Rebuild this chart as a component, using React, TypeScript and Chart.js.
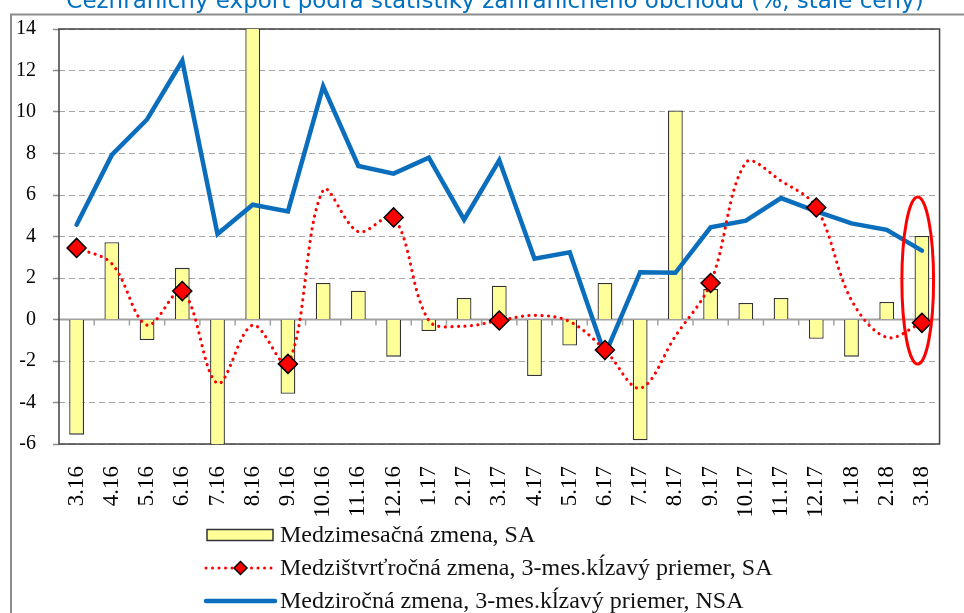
import React, { useEffect, useRef } from "react";
import { Chart, registerables } from "chart.js";

Chart.register(...registerables);

const titleText = "Cezhraničný export podľa štatistiky zahraničného obchodu (%, stále ceny)";

const months = [
  "3.16", "4.16", "5.16", "6.16", "7.16", "8.16", "9.16", "10.16", "11.16", "12.16",
  "1.17", "2.17", "3.17", "4.17", "5.17", "6.17", "7.17", "8.17", "9.17", "10.17",
  "11.17", "12.17", "1.18", "2.18", "3.18",
];

const momLabel = "Medzimesačná zmena, SA";
const momSA = [
  -5.55, 3.72, -0.99, 2.49, -6.5, 15.0, -3.58, 1.76, 1.39, -1.79,
  -0.56, 1.04, 1.63, -2.72, -1.25, 1.76, -5.82, 10.07, 1.47, 0.8,
  1.04, -0.93, -1.79, 0.84, 4.03,
];

const qoqLabel = "Medzištvrťročná zmena, 3-mes.kĺzavý priemer, SA";
const qoqSA = [
  3.45, 2.69, -0.27, 1.37, -3.07, -0.27, -2.14, 6.23, 4.23, 4.92,
  -0.05, -0.32, -0.05, 0.2, -0.1, -1.47, -3.31, -0.8, 1.76, 7.56,
  6.68, 5.4, 0.93, -0.86, -0.16,
];

const yoyLabel = "Medziročná zmena, 3-mes.kĺzavý priemer, NSA";
const yoyNSA = [
  4.57, 7.93, 9.64, 12.47, 4.12, 5.53, 5.21, 11.24, 7.4, 7.03,
  7.8, 4.81, 7.67, 2.93, 3.24, -1.7, 2.28, 2.25, 4.44, 4.76,
  5.85, 5.21, 4.63, 4.32, 3.32,
];

const yTicks = [-6, -4, -2, 0, 2, 4, 6, 8, 10, 12, 14];

// highlighted (circled) month and the value range it spans
const highlightIndex = 24;
const highlightTop = 5.9;
const highlightBottom = -2.15;

const isQuarterEnd = (i: number) => Number(months[i].split(".")[0]) % 3 === 0;

const BAR_FILL = "#FFFF99";
const BAR_BORDER = "#333333";
const RED = "#FF0000";
const BLUE = "#0A6EBD";
const SERIF = '"Liberation Serif", "Times New Roman", serif';

function drawDiamond(ctx: CanvasRenderingContext2D, x: number, y: number, r: number) {
  ctx.beginPath();
  ctx.moveTo(x - r, y);
  ctx.lineTo(x, y - r);
  ctx.lineTo(x + r, y);
  ctx.lineTo(x, y + r);
  ctx.closePath();
  ctx.fillStyle = RED;
  ctx.fill();
  ctx.strokeStyle = "#000";
  ctx.lineWidth = 1.5;
  ctx.stroke();
}

const decorPlugin = {
  id: "decor",
  beforeDraw(chart: any) {
    const { ctx } = chart;
    ctx.save();
    ctx.fillStyle = "#fff";
    ctx.fillRect(0, 0, chart.width, chart.height);
    // title (cut by top edge as in the source)
    ctx.fillStyle = "#0070C0";
    ctx.font = '23px "DejaVu Sans", Verdana, sans-serif';
    ctx.textAlign = "center";
    ctx.textBaseline = "alphabetic";
    ctx.fillText(titleText, 495, 8);
    // outer frame
    ctx.strokeStyle = "#8c8c8c";
    ctx.lineWidth = 2;
    ctx.beginPath();
    ctx.moveTo(11, chart.height);
    ctx.lineTo(11, 14.5);
    ctx.lineTo(chart.width, 14.5);
    ctx.stroke();
    ctx.restore();
  },
  beforeDatasetsDraw(chart: any) {
    const { ctx, chartArea: a, scales } = chart;
    const x = scales.x;
    const y = scales.y;
    const y0 = y.getPixelForValue(0);
    ctx.save();
    ctx.strokeStyle = "#a0a0a0";
    ctx.lineWidth = 2;
    ctx.beginPath();
    ctx.moveTo(a.left, y0);
    ctx.lineTo(a.right, y0);
    ctx.stroke();
    ctx.lineWidth = 1.5;
    for (let i = 1; i < months.length; i++) {
      const bx = (x.getPixelForValue(i - 1) + x.getPixelForValue(i)) / 2;
      ctx.beginPath();
      ctx.moveTo(bx, y0);
      ctx.lineTo(bx, y0 + 6);
      ctx.stroke();
    }
    ctx.strokeStyle = "#404040";
    ctx.lineWidth = 1.5;
    ctx.strokeRect(a.left, a.top, a.right - a.left, a.bottom - a.top);
    ctx.restore();
  },
  afterDatasetsDraw(chart: any) {
    const { ctx, scales } = chart;
    const x = scales.x;
    const y = scales.y;
    const cw = x.getPixelForValue(1) - x.getPixelForValue(0);
    const cx = x.getPixelForValue(highlightIndex) - cw * 0.12;
    const yt = y.getPixelForValue(highlightTop);
    const yb = y.getPixelForValue(highlightBottom);
    ctx.save();
    ctx.strokeStyle = RED;
    ctx.lineWidth = 3;
    ctx.beginPath();
    ctx.ellipse(cx, (yt + yb) / 2, cw * 0.45, (yb - yt) / 2, 0, 0, Math.PI * 2);
    ctx.stroke();
    ctx.restore();
  },
  afterDraw(chart: any) {
    const { ctx } = chart;
    const ds = chart.data.datasets;
    const symL = 206;
    const symR = 275;
    const textX = 280;
    const rows = [535, 568, 601];
    ctx.save();
    // bar symbol
    ctx.fillStyle = BAR_FILL;
    ctx.strokeStyle = BAR_BORDER;
    ctx.lineWidth = 1.5;
    ctx.fillRect(207, rows[0] - 5.5, 66, 11);
    ctx.strokeRect(207, rows[0] - 5.5, 66, 11);
    // dotted line symbol
    ctx.strokeStyle = RED;
    ctx.lineWidth = 3;
    ctx.lineCap = "round";
    ctx.setLineDash([0.001, 6.5]);
    ctx.beginPath();
    ctx.moveTo(symL, rows[1]);
    ctx.lineTo(symR, rows[1]);
    ctx.stroke();
    ctx.setLineDash([]);
    drawDiamond(ctx, (symL + symR) / 2, rows[1], 6.5);
    // solid blue symbol
    ctx.strokeStyle = BLUE;
    ctx.lineWidth = 4.5;
    ctx.lineCap = "round";
    ctx.beginPath();
    ctx.moveTo(symL, rows[2]);
    ctx.lineTo(symR, rows[2]);
    ctx.stroke();
    // texts
    ctx.fillStyle = "#111";
    ctx.font = "24px " + SERIF;
    ctx.textAlign = "left";
    ctx.textBaseline = "middle";
    ds.forEach((d: any, i: number) => {
      ctx.fillText(d.label, textX, rows[i] + 1);
    });
    ctx.restore();
  },
};

export default function App() {
  const ref = useRef<HTMLCanvasElement | null>(null);

  useEffect(() => {
    if (!ref.current) return;
    const chart = new Chart(ref.current, {
      type: "bar",
      data: {
        labels: months,
        datasets: [
          {
            type: "bar",
            label: momLabel,
            data: momSA,
            backgroundColor: BAR_FILL,
            borderColor: BAR_BORDER,
            borderWidth: 1.3,
            categoryPercentage: 1,
            barPercentage: 0.42,
            order: 3,
          } as any,
          {
            type: "line",
            label: qoqLabel,
            data: qoqSA,
            borderColor: RED,
            borderWidth: 3.2,
            borderDash: [0.001, 6.5],
            borderCapStyle: "round",
            tension: 0.35,
            pointStyle: "rectRot",
            pointRadius: (c: any) => (isQuarterEnd(c.dataIndex) ? 9.5 : 0),
            pointBackgroundColor: RED,
            pointBorderColor: "#000",
            pointBorderWidth: 1.5,
            order: 1,
          } as any,
          {
            type: "line",
            label: yoyLabel,
            data: yoyNSA,
            borderColor: BLUE,
            borderWidth: 4.5,
            borderJoinStyle: "miter",
            borderCapStyle: "round",
            tension: 0,
            pointRadius: 0,
            order: 2,
          } as any,
        ],
      },
      options: {
        responsive: false,
        animation: false,
        events: [],
        layout: { padding: { left: 0, top: 27, right: 23, bottom: 0 } },
        plugins: {
          legend: { display: false },
          title: { display: false },
          tooltip: { enabled: false },
        },
        scales: {
          x: {
            type: "category",
            offset: true,
            grid: { display: false },
            border: { display: false },
            ticks: {
              autoSkip: false,
              minRotation: 90,
              maxRotation: 90,
              padding: 14,
              color: "#000",
              font: { family: SERIF, size: 23 },
            },
            afterFit: (s: any) => {
              s.height = 169;
            },
          },
          y: {
            min: -6,
            max: 14,
            afterBuildTicks: (s: any) => {
              s.ticks = yTicks.map((v) => ({ value: v }));
            },
            grid: {
              color: (c: any) => (c.tick && c.tick.value === 0 ? "rgba(0,0,0,0)" : "#a6a6a6"),
              lineWidth: 1,
              drawTicks: true,
              tickLength: 6,
              tickColor: "#8c8c8c",
              tickWidth: 1.5,
            },
            border: { display: false, dash: [6, 4] },
            ticks: {
              padding: 17,
              color: "#000",
              font: { family: SERIF, size: 20 },
            },
            afterFit: (s: any) => {
              s.width = 59;
            },
          },
        },
      },
      plugins: [decorPlugin],
    });
    return () => chart.destroy();
  }, []);

  return (
    <div style={{ position: "absolute", left: 0, top: 0, width: 964, height: 613 }}>
      <canvas ref={ref} width={964} height={613} style={{ display: "block" }} />
    </div>
  );
}
